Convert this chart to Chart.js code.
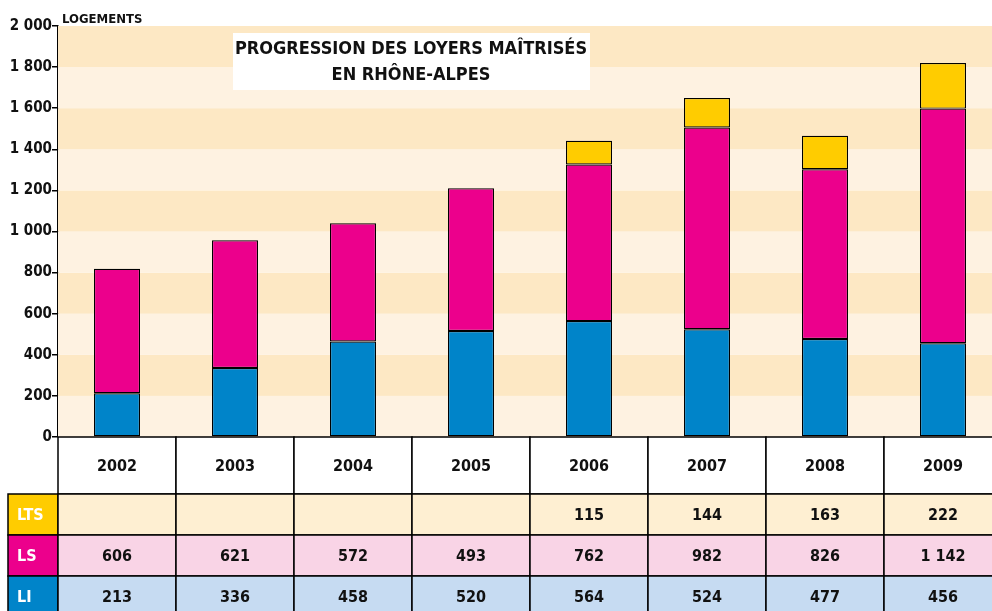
<!DOCTYPE html>
<html>
<head>
<meta charset="utf-8">
<script src="https://cdn.jsdelivr.net/npm/chart.js@4"></script>
<style>
  html, body { margin: 0; padding: 0; background: #fff; overflow: hidden; }
  #wrap { width: 1002px; height: 611px; }
</style>
</head>
<body>
<div id="wrap"><canvas id="chart" width="1002" height="611"></canvas></div>
<script>
// Data
const years = ['2002', '2003', '2004', '2005', '2006', '2007', '2008', '2009'];
// values printed in the table
const li  = [213, 336, 458, 520, 564, 524, 477, 456];
const ls  = [606, 621, 572, 493, 762, 982, 826, 1142];
const lts = [null, null, null, null, 115, 144, 163, 222];
// bar heights as drawn in the picture (2004/2005 bars differ from the table)
const barLI  = [213, 336, 465, 516, 564, 524, 477, 456];
const barLS  = [606, 621, 575, 694, 762, 982, 826, 1142];
const barLTS = [null, null, null, null, 115, 144, 163, 222];
const yTicks = [0, 200, 400, 600, 800, 1000, 1200, 1400, 1600, 1800, 2000];

const FONT = '"DejaVu Sans Condensed", "DejaVu Sans", sans-serif';
const fmt = v => String(v).replace(/\B(?=(\d{3})+(?!\d))/g, ' ');

// Alternating background bands
const bandsPlugin = {
  id: 'bands',
  beforeDatasetsDraw(chart) {
    const { ctx, chartArea: a, scales: { y } } = chart;
    ctx.save();
    for (let i = 0; i < yTicks.length - 1; i++) {
      const top = y.getPixelForValue(yTicks[i + 1]);
      const bot = y.getPixelForValue(yTicks[i]);
      ctx.fillStyle = i % 2 === 0 ? '#fef2e1' : '#fde8c4';
      ctx.fillRect(a.left, top, a.right - a.left, bot - top);
    }
    ctx.restore();
  }
};

// Title box, unit label and data table
const extrasPlugin = {
  id: 'extras',
  afterDraw(chart) {
    const { ctx, chartArea: a, scales: { x } } = chart;
    ctx.save();

    // title
    ctx.fillStyle = '#fff';
    ctx.fillRect(233, 33, 357, 57);
    ctx.fillStyle = '#111';
    ctx.font = 'bold 18px ' + FONT;
    ctx.textAlign = 'center';
    ctx.textBaseline = 'middle';
    ctx.fillText('PROGRESSION DES LOYERS MAÎTRISÉS', 411, 49);
    ctx.fillText('EN RHÔNE-ALPES', 411, 75);

    // unit
    ctx.textAlign = 'left';
    ctx.font = 'bold 13px ' + FONT;
    ctx.fillText('LOGEMENTS', 62, 20);

    // table
    const half = (x.getPixelForValue(1) - x.getPixelForValue(0)) / 2;
    const rows = [
      { label: 'LTS', data: lts, bg: '#feefd2', head: '#ffcc00' },
      { label: 'LS', data: ls, bg: '#f9d4e6', head: '#ec008c' },
      { label: 'LI', data: li, bg: '#c6dbf2', head: '#0084c9' }
    ];
    const top = a.bottom, headH = 57, rowH = 41;
    ctx.lineWidth = 1.5;
    ctx.strokeStyle = '#000';

    // header row
    ctx.font = 'bold 16px ' + FONT;
    ctx.textAlign = 'center';
    years.forEach((yr, i) => {
      const cx = x.getPixelForValue(i);
      ctx.fillStyle = '#fff';
      ctx.fillRect(cx - half, top, half * 2, headH);
      ctx.strokeRect(cx - half, top, half * 2, headH);
      ctx.fillStyle = '#111';
      ctx.fillText(yr, cx, top + headH / 2 + 1);
    });

    rows.forEach((r, ri) => {
      const ry = top + headH + ri * rowH;
      // row label cell
      ctx.fillStyle = r.head;
      ctx.fillRect(8, ry, a.left - 8, rowH);
      ctx.strokeRect(8, ry, a.left - 8, rowH);
      ctx.fillStyle = '#fff';
      ctx.textAlign = 'left';
      ctx.fillText(r.label, 17, ry + rowH / 2 + 1);
      ctx.textAlign = 'center';
      r.data.forEach((v, i) => {
        const cx = x.getPixelForValue(i);
        ctx.fillStyle = r.bg;
        ctx.fillRect(cx - half, ry, half * 2, rowH);
        ctx.strokeRect(cx - half, ry, half * 2, rowH);
        if (v != null) {
          ctx.fillStyle = '#111';
          ctx.fillText(fmt(v), cx, ry + rowH / 2 + 1);
        }
      });
    });
    ctx.restore();
  }
};

const barStyle = { borderColor: '#000', borderWidth: 1.2, borderSkipped: false, barPercentage: 0.39, categoryPercentage: 1 };

new Chart(document.getElementById('chart').getContext('2d'), {
  type: 'bar',
  data: {
    labels: years,
    datasets: [
      { label: 'LI', data: barLI, backgroundColor: '#0084c9', ...barStyle },
      { label: 'LS', data: barLS, backgroundColor: '#ec008c', ...barStyle },
      { label: 'LTS', data: barLTS, backgroundColor: '#ffcc00', ...barStyle }
    ]
  },
  options: {
    responsive: false,
    animation: false,
    layout: { padding: { top: 26, bottom: 174, left: 0, right: 0 } },
    plugins: { legend: { display: false }, tooltip: { enabled: false } },
    scales: {
      x: { stacked: true, display: false },
      y: {
        stacked: true, min: 0, max: 2000,
        afterFit: s => { s.width = 58; },
        afterBuildTicks: s => { s.ticks = yTicks.map(v => ({ value: v })); },
        grid: { drawOnChartArea: false, drawTicks: true, tickLength: 6, color: '#000', lineWidth: 1.5 },
        border: { display: true, color: '#000', width: 1.5 },
        ticks: { color: '#111', padding: 0, font: { family: FONT, size: 15, weight: 'bold' }, callback: v => fmt(v) }
      }
    }
  },
  plugins: [bandsPlugin, extrasPlugin]
});
</script>
</body>
</html>
